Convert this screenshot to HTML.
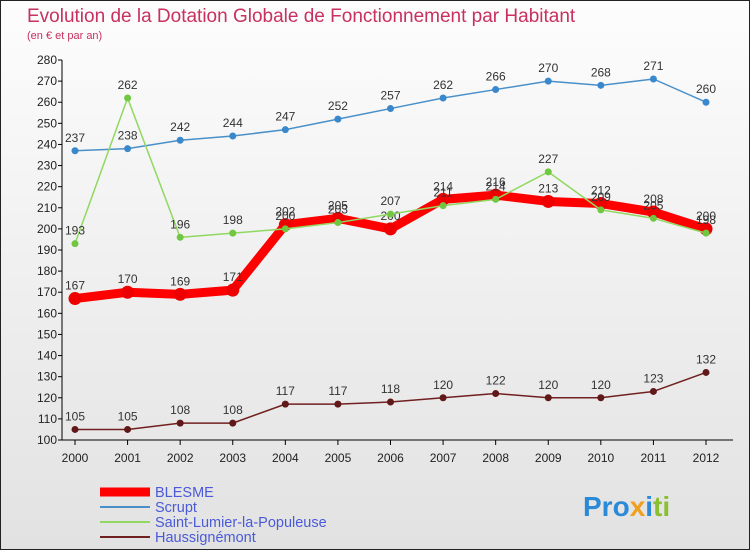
<!DOCTYPE html>
<html><head><meta charset="utf-8"><style>
body{margin:0;width:750px;height:550px;overflow:hidden;font-family:"Liberation Sans",sans-serif}
svg{display:block}
</style></head><body>
<svg id="c" width="750" height="550">
<defs><linearGradient id="bg" x1="0" y1="0" x2="0" y2="1"><stop offset="0" stop-color="#fdfdfd"/><stop offset="1" stop-color="#e2e2e2"/></linearGradient></defs>
<rect x="0.5" y="0.5" width="749" height="549" fill="url(#bg)" stroke="#222"/>
<text x="27" y="22" font-size="19" fill="#c83060">Evolution de la Dotation Globale de Fonctionnement par Habitant</text>
<text x="27" y="39" font-size="11" fill="#c83060">(en € et par an)</text>
<g id="axes"></g><g id="marks"></g><g id="legend"></g>
<text x="583" y="516" font-size="28" font-weight="bold" fill="#2a8ad8">Pro<tspan fill="#f0a020">x</tspan><tspan fill="#2a8ad8">i</tspan><tspan fill="#8ac030">ti</tspan></text>
</svg>
<script>
const years=[2000,2001,2002,2003,2004,2005,2006,2007,2008,2009,2010,2011,2012];
const yTicks=[100,110,120,130,140,150,160,170,180,190,200,210,220,230,240,250,260,270,280];
const scrupt=[237,238,242,244,247,252,257,262,266,270,268,271,260];
const blesme=[167,170,169,171,202,205,200,214,216,213,212,208,200];
const saint=[193,262,196,198,200,203,207,211,214,227,209,205,198];
const hauss=[105,105,108,108,117,117,118,120,122,120,120,123,132];
const NS="http://www.w3.org/2000/svg";
const X=i=>75+i*(706-75)/12;
const Y=v=>440-(v-100)*(380/180);
function mk(t,a,p,txt){const e=document.createElementNS(NS,t);for(const k in a)e.setAttribute(k,a[k]);if(txt!==undefined)e.textContent=txt;p.appendChild(e);return e;}
const ax=document.getElementById('axes');
let e=mk('line',{x1:62,y1:60,x2:62,y2:440,stroke:'#000'},ax);

e=mk('line',{x1:62,y1:440,x2:733,y2:440,stroke:'#000'},ax);

yTicks.forEach(v=>{mk('line',{x1:58,y1:Y(v),x2:62,y2:Y(v),stroke:'#000'},ax);
const t=mk('text',{x:57,y:Y(v)+4,'font-size':12,'text-anchor':'end',fill:'#222'},ax,v);
});
years.forEach((y,i)=>{mk('line',{x1:X(i),y1:440,x2:X(i),y2:445,stroke:'#000'},ax);
const t=mk('text',{x:X(i),y:462,'font-size':12,'text-anchor':'middle',fill:'#222'},ax,y);
});
const series=[
 {name:'scrupt',data:scrupt,col:'#4a90c8',w:1.5,r:3.5,fill:'#3a88cc'},
 {name:'saint-lumier',data:saint,col:'#90d860',w:1.5,r:3.5,fill:'#70c840'},
 {name:'haussignemont',data:hauss,col:'#702020',w:1.5,r:3.5,fill:'#601818'},
 {name:'blesme',data:blesme,col:'#ff0000',w:9,r:6.5,fill:'#ee0000'}];
const mg=document.getElementById('marks');
const order=[3,0,1,2];
order.forEach(si=>{const s=series[si];const g=mk('g',{},mg);

const l=mk('polyline',{points:s.data.map((v,i)=>X(i)+','+Y(v)).join(' '),fill:'none',stroke:s.col,'stroke-width':s.w,'stroke-linejoin':'round'},g);

s.data.forEach((v,i)=>{const c=mk('circle',{cx:X(i),cy:Y(v),r:s.r,fill:s.fill},g);

const t=mk('text',{x:X(i),y:Y(v)-9,'font-size':12,'text-anchor':'middle',fill:'#333'},g,v);
});});
const lg=document.getElementById('legend');
const leg=[['BLESME','#ff0000',9],['Scrupt','#4a90c8',2],['Saint-Lumier-la-Populeuse','#90d860',2],['Haussignémont','#702020',2]];
leg.forEach((d,i)=>{const y=492+i*15;
const g=mk('g',{},lg);
mk('line',{x1:100,y1:y,x2:150,y2:y,stroke:d[1],'stroke-width':d[2]},g);
mk('text',{x:155,y:y+5,'font-size':14.5,fill:'#4a5ad8'},g,d[0]);});
</script>
</body></html>
